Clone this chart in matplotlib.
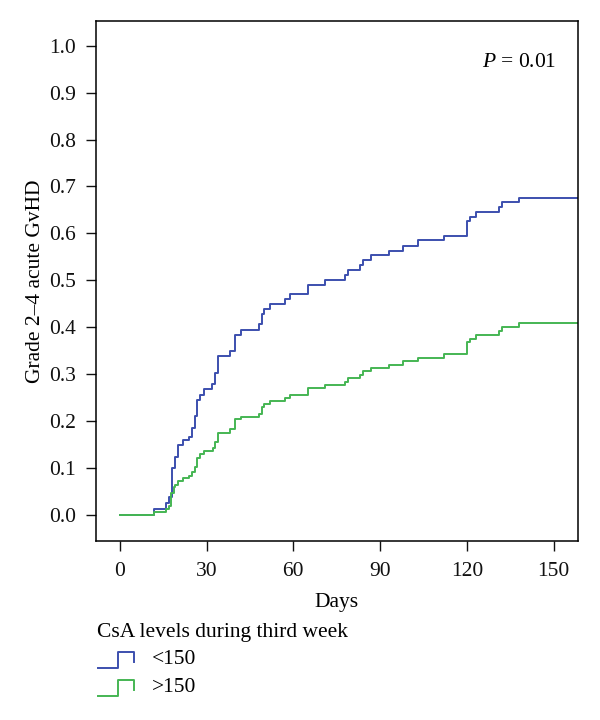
# Cumulative incidence of grade 2-4 acute GvHD by CsA level
import matplotlib
matplotlib.use('Agg')
import matplotlib.pyplot as plt
from matplotlib.lines import Line2D

plt.rcParams['font.family'] = ['Liberation Serif', 'DejaVu Serif']
plt.rcParams['mathtext.fontset'] = 'custom'
plt.rcParams['mathtext.it'] = 'Liberation Serif:italic'

# Dados
t_low = [0, 12, 16, 17, 18, 19, 20, 22, 24, 25,
         26, 26.7, 27.7, 29.2, 32, 33, 34, 38, 40, 42,
         48, 49, 50, 52, 57, 59, 65, 71, 78, 79,
         83, 84, 87, 93, 98, 103, 112, 120, 121, 123,
         131, 132, 138, 160]
v_low = [0, 0.013, 0.025, 0.038, 0.100, 0.124, 0.149, 0.160, 0.167, 0.186,
         0.210, 0.245, 0.256, 0.268, 0.280, 0.303, 0.339, 0.350, 0.383, 0.394,
         0.406, 0.428, 0.438, 0.450, 0.460, 0.471, 0.491, 0.501, 0.511, 0.522,
         0.532, 0.543, 0.553, 0.563, 0.573, 0.585, 0.594, 0.626, 0.636, 0.646,
         0.657, 0.666, 0.675, 0.675]

t_high = [0, 12, 16, 17, 17.7, 18.7, 19, 20, 22, 24,
          25, 26, 26.7, 27.7, 29.2, 32.3, 33, 34, 38, 40,
          42, 48, 49, 50, 52, 57, 59, 65, 71, 78,
          79, 83, 84, 87, 93, 98, 103, 112, 120, 121,
          123, 131, 132, 138, 160]
v_high = [0, 0.006, 0.012, 0.019, 0.046, 0.060, 0.064, 0.073, 0.078, 0.083,
          0.092, 0.103, 0.121, 0.130, 0.136, 0.142, 0.156, 0.175, 0.183, 0.204,
          0.209, 0.215, 0.229, 0.236, 0.243, 0.250, 0.256, 0.271, 0.277, 0.284,
          0.292, 0.298, 0.306, 0.313, 0.320, 0.328, 0.335, 0.344, 0.369, 0.376,
          0.384, 0.393, 0.401, 0.409, 0.409]

grupos = ['<150', '>150']
cores = ['#3c4fae', '#45b653']
x_ticks = [0, 30, 60, 90, 120, 150]
y_ticks = [0.0, 0.1, 0.2, 0.3, 0.4, 0.5, 0.6, 0.7, 0.8, 0.9, 1.0]

fs = 15.5

fig = plt.figure(figsize=(6, 7.2), dpi=100)
ax = fig.add_axes([0.1595, 0.249, 0.8035, 0.722])

ax.step(t_low, v_low, where='post', color=cores[0], linewidth=1.4)
ax.step(t_high, v_high, where='post', color=cores[1], linewidth=1.4)

ax.set_xlim(-8.3, 158.3)
ax.set_ylim(-0.055, 1.053)
ax.set_xticks(x_ticks)
ax.set_yticks(y_ticks)
ax.set_yticklabels(['%.1f' % v for v in y_ticks])
ax.tick_params(direction='out', length=7, width=1, labelsize=fs, colors='#111111')
ax.tick_params(axis='y', pad=7)
ax.tick_params(axis='x', pad=8)
for s in ax.spines.values():
    s.set_linewidth(1.1)

ax.set_xlabel('Days', fontsize=fs, labelpad=9)
ax.set_ylabel('Grade 2\u20134 acute GvHD', fontsize=fs, labelpad=3)
ax.text(0.955, 0.92, r'$P$ = 0.01', transform=ax.transAxes,
        ha='right', va='center', fontsize=fs)

# Legenda desenhada abaixo do eixo
fig.text(97/600, 1 - 633/720, 'CsA levels during third week',
         fontsize=fs, ha='left', va='center')
for i, (g, c) in enumerate(zip(grupos, cores)):
    yc = 1 - (660 + 28*i)/720
    h = 8/720
    xs = [98/600, 118/600, 118/600, 134/600, 134/600]
    ys = [yc - h, yc - h, yc + h, yc + h, yc - 0.2*h]
    fig.lines.append(Line2D(xs, ys, color=c, linewidth=1.4, transform=fig.transFigure))
    fig.text(152/600, yc, g, fontsize=fs, ha='left', va='center')

plt.savefig('out.png', dpi=100)
